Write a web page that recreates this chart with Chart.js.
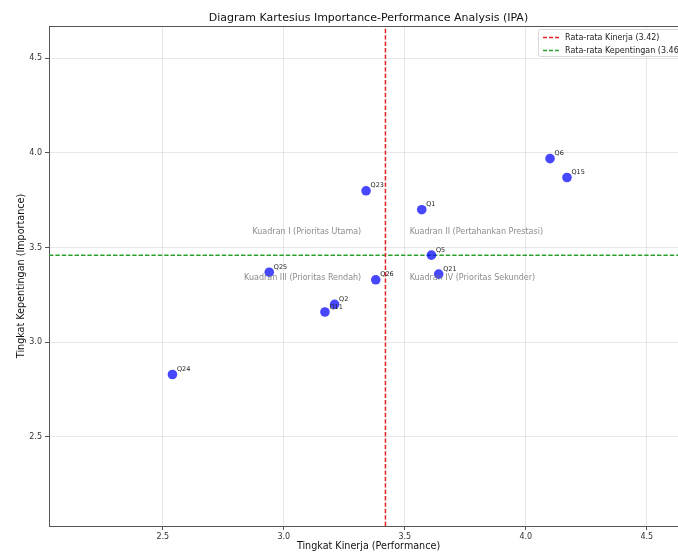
<!DOCTYPE html>
<html>
<head>
<meta charset="utf-8">
<script src="https://cdn.jsdelivr.net/npm/chart.js@4.4.1/dist/chart.umd.min.js"></script>
<style>
  html, body { margin: 0; padding: 0; background: #fff; overflow: hidden; }
  #chart_box { position: relative; width: 700px; height: 554px; }
</style>
</head>
<body>
<div id="chart_box"><canvas id="canvas"></canvas></div>
<script>
//-------------------
// DATA
//-------------------
var questions = ["Q24", "Q25", "Q11", "Q2", "Q23", "Q26", "Q1", "Q5", "Q21", "Q6", "Q15"];
var kinerja = [2.54, 2.94, 3.17, 3.21, 3.34, 3.38, 3.57, 3.61, 3.64, 4.10, 4.17];
var kepentingan = [2.83, 3.37, 3.16, 3.20, 3.80, 3.33, 3.70, 3.46, 3.36, 3.97, 3.87];
var meanKinerja = 3.42;
var meanKepentingan = 3.46;
var axisLimits = [2.03, 4.67];
var tickValues = [2.5, 3.0, 3.5, 4.0, 4.5];
var quadrantNames = ["Kuadran I (Prioritas Utama)", "Kuadran II (Pertahankan Prestasi)",
                     "Kuadran III (Prioritas Rendah)", "Kuadran IV (Prioritas Sekunder)"];

var fontFamily = "'DejaVu Sans', sans-serif";
var pointColor = "rgba(0, 0, 255, 0.72)";
var redLine = "#e62222";
var greenLine = "#2f9e2f";

var points = questions.map(function (q, i) {
    return { x: kinerja[i], y: kepentingan[i], label: q };
});

// text, frame and legend drawn on top of chart
var overlayPlugin = {
    id: "overlay",
    afterDatasetsDraw: function (chart) {
        var ctx = chart.ctx;
        var area = chart.chartArea;
        var xs = chart.scales.x;
        var ys = chart.scales.y;
        ctx.save();

        // quadrant labels
        ctx.font = "8px " + fontFamily;
        ctx.fillStyle = "rgba(110,110,110,0.8)";
        var upY = ys.getPixelForValue(meanKepentingan + 0.1);
        var downY = ys.getPixelForValue(meanKepentingan - 0.1);
        var leftX = xs.getPixelForValue(meanKinerja - 0.1);
        var rightX = xs.getPixelForValue(meanKinerja + 0.1);
        ctx.textBaseline = "bottom";
        ctx.textAlign = "right";
        ctx.fillText(quadrantNames[0], leftX, upY);
        ctx.textAlign = "left";
        ctx.fillText(quadrantNames[1], rightX, upY);
        ctx.textBaseline = "top";
        ctx.textAlign = "right";
        ctx.fillText(quadrantNames[2], leftX, downY);
        ctx.textAlign = "left";
        ctx.fillText(quadrantNames[3], rightX, downY);

        // point labels
        ctx.font = "6.5px " + fontFamily;
        ctx.fillStyle = "#222";
        ctx.textAlign = "left";
        ctx.textBaseline = "middle";
        points.forEach(function (p) {
            ctx.fillText(p.label, xs.getPixelForValue(p.x) + 4.5, ys.getPixelForValue(p.y) - 5);
        });

        // top / right spines
        ctx.strokeStyle = "#555";
        ctx.lineWidth = 1;
        ctx.beginPath();
        ctx.moveTo(area.left, area.top + 0.5);
        ctx.lineTo(area.right, area.top + 0.5);
        ctx.lineTo(area.right, area.bottom);
        ctx.stroke();

        // legend
        var lx = 538, ly = 29;
        ctx.fillStyle = "rgba(255,255,255,0.85)";
        ctx.strokeStyle = "#d8d8d8";
        ctx.lineWidth = 1;
        ctx.beginPath();
        ctx.roundRect(lx + 0.5, ly + 0.5, 147, 27, 2);
        ctx.fill();
        ctx.stroke();
        var entries = [["Rata-rata Kinerja (" + meanKinerja.toFixed(2) + ")", redLine],
                       ["Rata-rata Kepentingan (" + meanKepentingan.toFixed(2) + ")", greenLine]];
        ctx.font = "8px " + fontFamily;
        ctx.textBaseline = "middle";
        entries.forEach(function (e, i) {
            var yy = Math.round(ly + 8 + i * 12.5) + 0.5;
            ctx.strokeStyle = e[1];
            ctx.lineWidth = 1.3;
            ctx.setLineDash([4, 2]);
            ctx.beginPath();
            ctx.moveTo(lx + 5, yy);
            ctx.lineTo(lx + 21, yy);
            ctx.stroke();
            ctx.setLineDash([]);
            ctx.fillStyle = "#222";
            ctx.fillText(e[0], lx + 27, yy);
        });

        // title and axis titles
        var cx = (area.left + area.right) / 2;
        ctx.fillStyle = "#111";
        ctx.textAlign = "center";
        ctx.textBaseline = "middle";
        ctx.font = "11px " + fontFamily;
        ctx.fillText("Diagram Kartesius Importance-Performance Analysis (IPA)", cx, 18.5);
        ctx.font = "9.6px " + fontFamily;
        ctx.fillText("Tingkat Kinerja (Performance)", cx, 546.5);
        ctx.translate(21, (area.top + area.bottom) / 2);
        ctx.rotate(-Math.PI / 2);
        ctx.fillText("Tingkat Kepentingan (Importance)", 0, 0);
        ctx.restore();
    }
};

function fixedTicks(scale) {
    scale.ticks = tickValues.map(function (v) { return { value: v }; });
}

var ctx = document.getElementById("canvas").getContext("2d");
var chart = new Chart(ctx, {
    type: "scatter",
    data: {
        datasets: [{
            label: "points",
            data: points,
            backgroundColor: pointColor,
            borderWidth: 0,
            pointRadius: 4.8,
            pointHoverRadius: 4.8,
            order: 1
        }, {
            type: "line",
            label: "Rata-rata Kinerja",
            data: [{ x: meanKinerja, y: axisLimits[0] }, { x: meanKinerja, y: axisLimits[1] }],
            borderColor: redLine,
            borderWidth: 1.5,
            borderDash: [4.4, 2],
            pointRadius: 0,
            fill: false,
            order: 2
        }, {
            type: "line",
            label: "Rata-rata Kepentingan",
            data: [{ x: axisLimits[0], y: meanKepentingan }, { x: axisLimits[1], y: meanKepentingan }],
            borderColor: greenLine,
            borderWidth: 1.5,
            borderDash: [4.4, 2],
            pointRadius: 0,
            fill: false,
            order: 2
        }]
    },
    options: {
        responsive: true,
        maintainAspectRatio: false,
        animation: false,
        layout: { padding: { top: 26, right: 12, left: 0, bottom: 0 } },
        plugins: {
            legend: { display: false },
            title: { display: false },
            tooltip: { enabled: false }
        },
        scales: {
            x: {
                type: "linear",
                min: axisLimits[0],
                max: axisLimits[1],
                afterBuildTicks: fixedTicks,
                afterFit: function (scale) { scale.height = 28; },
                grid: { color: "rgba(176,176,176,0.3)", tickColor: "#555", tickLength: 4 },
                border: { color: "#555", width: 1 },
                ticks: {
                    font: { family: fontFamily, size: 8 },
                    color: "#333",
                    padding: 2,
                    maxRotation: 0,
                    callback: function (v) { return v.toFixed(1); }
                }
            },
            y: {
                type: "linear",
                min: axisLimits[0],
                max: axisLimits[1],
                afterBuildTicks: fixedTicks,
                afterFit: function (scale) { scale.width = 49; },
                grid: { color: "rgba(176,176,176,0.3)", tickColor: "#555", tickLength: 4 },
                border: { color: "#555", width: 1 },
                ticks: {
                    font: { family: fontFamily, size: 8 },
                    color: "#333",
                    padding: 3,
                    callback: function (v) { return v.toFixed(1); }
                }
            }
        }
    },
    plugins: [overlayPlugin]
});
</script>
</body>
</html>
